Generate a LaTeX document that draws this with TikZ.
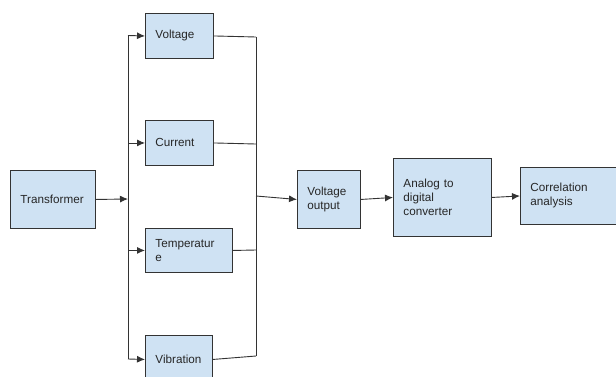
\documentclass[tikz,border=0pt]{standalone}
\usepackage{fontspec}
\setmainfont{Liberation Sans}
\usetikzlibrary{arrows.meta}
\definecolor{boxfill}{HTML}{CFE2F3}
\definecolor{linec}{HTML}{333333}
\tikzset{
  blk/.style={draw=linec, fill=boxfill, line width=0.9pt, rectangle, anchor=north west,
    inner xsep=10pt, inner ysep=0pt, align=left, font=\fontsize{11.7}{14}\selectfont,
    text=black!85},
  wire/.style={draw=linec, line width=0.9pt},
  arr/.style={wire, -{Latex[length=8pt,width=7pt]}}
}
\begin{document}
\begin{tikzpicture}[x=1pt,y=-1pt]
\useasboundingbox (0,0) rectangle (616,376);
\clip (0,0) rectangle (616,376);
\fill[white] (0,0) rectangle (616,376);
% boxes
\node[blk, minimum width=85, minimum height=58, text width=65] (tr) at (10,170) {Transformer};
\node[blk, minimum width=68, minimum height=45, text width=48] (vo) at (145,13) {Voltage};
\node[blk, minimum width=68, minimum height=45, text width=48] (cu) at (145,120) {Current};
\node[blk, minimum width=87, minimum height=44, text width=67] (te) at (145,228) {Temperatur\\e};
\node[blk, minimum width=67, minimum height=48, text width=47] (vi) at (145,335) {Vibration};
\node[blk, minimum width=63, minimum height=58, text width=43] (out) at (297,170) {Voltage\\output};
\node[blk, minimum width=98, minimum height=78, text width=78] (adc) at (393,158) {Analog to\\digital\\converter};
\node[blk, minimum width=100, minimum height=57, text width=80] (co) at (520,167) {Correlation\\analysis};
% bus coordinates
\coordinate (lt) at (128,35.5);
\coordinate (lb) at (128,359);
\coordinate (ltr) at (128,199);
\coordinate (rt) at (256,37);
\coordinate (rc) at (256,144);
\coordinate (rte) at (256,250);
\coordinate (rb) at (256,356);
\coordinate (rm) at (256,196);
% left bus
\draw[wire] (lt) -- (lb);
\draw[arr] (tr.east) -- (ltr);
\draw[arr] (lt) -- (vo.west);
\draw[arr] (lt |- cu.west) -- (cu.west);
\draw[arr] (lt |- te.west) -- (te.west);
\draw[arr] (lb) -- (vi.west);
% right bus
\draw[wire] (rt) -- (rb);
\draw[wire] (vo.east) -- (rt);
\draw[wire] (cu.east) -- (rc);
\draw[wire] (te.east) -- (rte);
\draw[wire] (vi.east) -- (rb);
\draw[arr] (rm) -- (out.west);
\draw[arr] (out.east) -- (adc.west);
\draw[arr] (adc.east) -- (co.west);
\end{tikzpicture}
\end{document}
